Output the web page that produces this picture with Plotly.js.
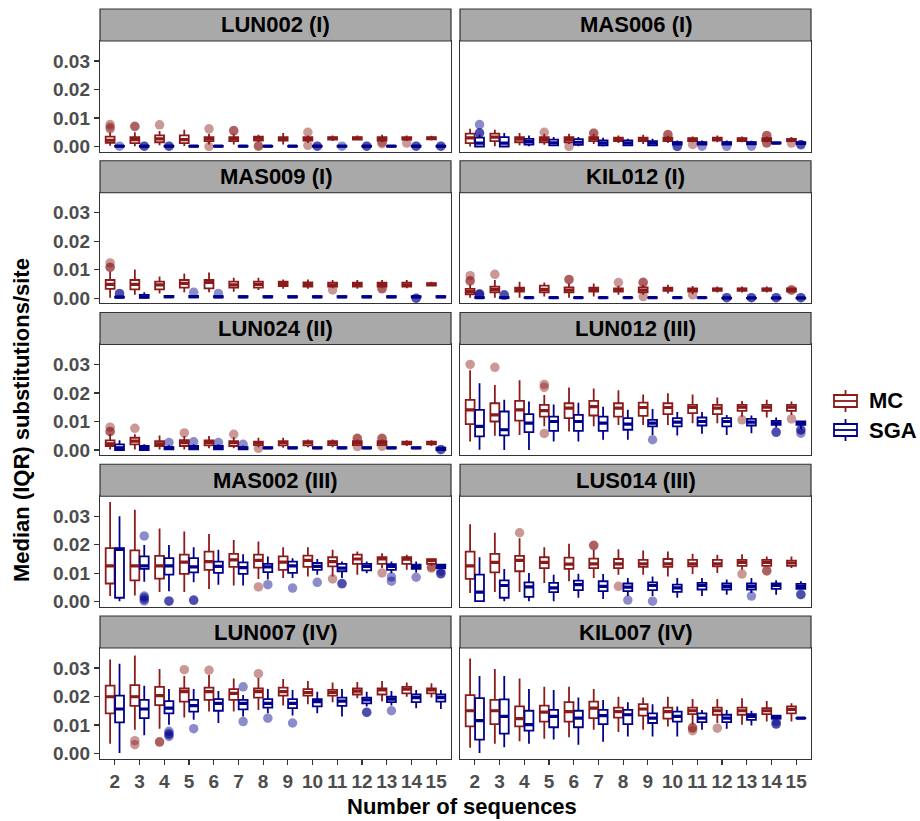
<!DOCTYPE html>
<html>
<head>
<meta charset="utf-8">
<script src="https://cdn.plot.ly/plotly-3.0.1.min.js"></script>
<style>html,body{margin:0;padding:0;background:#fff;overflow:hidden;}#chart{width:920px;height:821px;}</style>
</head>
<body>
<div id="chart"></div>
<script>
// ---------------- DATA ----------------
// number of sequences (x categories)
const nSeq = [2,3,4,5,6,7,8,9,10,11,12,13,14,15];
const seriesNames = ['MC','SGA'];
const panelTitles = ['LUN002 (I)','MAS006 (I)','MAS009 (I)','KIL012 (I)','LUN024 (II)',
                     'LUN012 (III)','MAS002 (III)','LUS014 (III)','LUN007 (IV)','KIL007 (IV)'];
const yTickVals = [0, 0.01, 0.02, 0.03];
const yTickText = ['0.00','0.01','0.02','0.03'];

// each row: [lower whisker, Q1, median, Q3, upper whisker] for n = 2..15
const LUN002_MC = [[0.0003,0.0013,0.0022,0.0035,0.0050],[0.0001,0.0012,0.0024,0.0033,0.0050],[0.0004,0.0015,0.0027,0.0039,0.0054],[0.0002,0.0012,0.0024,0.0039,0.0059],[0.0007,0.0019,0.0027,0.0033,0.0045],[0.0007,0.0019,0.0027,0.0033,0.0045],[0.0015,0.0021,0.0029,0.0035,0.0041],[0.0007,0.0021,0.0027,0.0033,0.0047],[0.0012,0.0021,0.0027,0.0033,0.0039],[0.0019,0.0024,0.0029,0.0033,0.0039],[0.0021,0.0024,0.0029,0.0033,0.0039],[0.0015,0.0021,0.0027,0.0033,0.0041],[0.0019,0.0024,0.0028,0.0033,0.0039],[0.0021,0.0025,0.0029,0.0033,0.0038]];
const LUN002_SGA = [[0,0,0.0001,0.0002,0.0004],[0,0,0.0001,0.0002,0.0003],[0,0,0.0001,0.0002,0.0003],[0,0,0.0001,0.0002,0.0004],[0,0,0.0001,0.0002,0.0004],[0,0,0.0001,0.0002,0.0004],[0,0,0.0001,0.0002,0.0004],[0,0,0.0001,0.0002,0.0004],[0,0,0.0001,0.0002,0.0003],[0,0,0.0001,0.0002,0.0004],[0,0,0.0001,0.0002,0.0003],[0,0,0.0001,0.0002,0.0004],[0,0,0.0001,0.0002,0.0003],[0,0,0.0001,0.0002,0.0003]];
const MAS006_MC = [[0.0,0.0012,0.0030,0.0045,0.0062],[0.0001,0.0019,0.0033,0.0045,0.0059],[0.0004,0.0015,0.0026,0.0033,0.0047],[0.0006,0.0015,0.0024,0.0033,0.0045],[0.0009,0.0015,0.0025,0.0033,0.0045],[0.0009,0.0019,0.0027,0.0033,0.0045],[0.0012,0.0019,0.0025,0.0031,0.0039],[0.0009,0.0019,0.0025,0.0031,0.0041],[0.0012,0.0019,0.0025,0.0031,0.0038],[0.0015,0.0019,0.0025,0.0029,0.0035],[0.0015,0.0021,0.0027,0.0031,0.0039],[0.0015,0.0019,0.0025,0.0029,0.0035],[0.0015,0.0019,0.0024,0.0029,0.0035],[0.0015,0.0019,0.0024,0.0027,0.0033]];
const MAS006_SGA = [[0.0,0.0,0.0012,0.0031,0.0042],[0.0,0.0,0.0012,0.0033,0.0047],[0.0001,0.0007,0.0017,0.0027,0.0039],[0.0001,0.0004,0.0013,0.0024,0.0033],[0.0001,0.0006,0.0015,0.0026,0.0033],[0.0,0.0004,0.0012,0.0021,0.0031],[0.0001,0.0004,0.0012,0.0021,0.0027],[0.0001,0.0004,0.0012,0.0019,0.0027],[0.0004,0.0007,0.0012,0.0015,0.0021],[0.0004,0.0007,0.0012,0.0015,0.0021],[0.0004,0.0007,0.0012,0.0015,0.0021],[0.0004,0.0008,0.0012,0.0015,0.0020],[0.0010,0.0011,0.0012,0.0014,0.0015],[0.0005,0.0009,0.0011,0.0015,0.0018]];
const MAS009_MC = [[0.0002,0.0033,0.0049,0.0064,0.0093],[0.0012,0.0031,0.0049,0.0064,0.0101],[0.0017,0.0031,0.0047,0.0058,0.0076],[0.0021,0.0037,0.0052,0.0064,0.0087],[0.0021,0.0035,0.0056,0.0064,0.0090],[0.0023,0.0037,0.0047,0.0058,0.0072],[0.0029,0.0037,0.0049,0.0058,0.0072],[0.0033,0.0043,0.0052,0.0058,0.0066],[0.0033,0.0041,0.0049,0.0056,0.0066],[0.0035,0.0041,0.0047,0.0055,0.0064],[0.0033,0.0041,0.0049,0.0055,0.0064],[0.0035,0.0041,0.0049,0.0055,0.0064],[0.0035,0.0041,0.0047,0.0055,0.0064],[0.0041,0.0044,0.0049,0.0053,0.0058]];
const MAS009_SGA = [[0.0,0.0002,0.0004,0.0006,0.0009],[0.0,0.0001,0.0005,0.0012,0.0021],[0.0001,0.0003,0.0006,0.0008,0.0011],[0.0001,0.0003,0.0006,0.0008,0.0011],[0.0002,0.0003,0.0005,0.0007,0.0010],[0.0002,0.0003,0.0005,0.0007,0.0009],[0.0002,0.0003,0.0005,0.0007,0.0009],[0.0002,0.0003,0.0005,0.0007,0.0009],[0.0002,0.0003,0.0005,0.0007,0.0009],[0.0002,0.0003,0.0005,0.0007,0.0009],[0.0002,0.0003,0.0005,0.0007,0.0009],[0.0002,0.0003,0.0005,0.0007,0.0009],[0.0002,0.0003,0.0005,0.0007,0.0009],[0.0002,0.0003,0.0005,0.0007,0.0009]];
const KIL012_MC = [[0.0002,0.0014,0.0023,0.0033,0.0047],[0.0002,0.0021,0.0031,0.0041,0.0064],[0.0002,0.0023,0.0031,0.0037,0.0058],[0.0006,0.0021,0.0031,0.0044,0.0055],[0.0002,0.0021,0.0029,0.0038,0.0052],[0.0006,0.0023,0.0031,0.0037,0.0052],[0.0012,0.0023,0.0029,0.0035,0.0044],[0.0012,0.0021,0.0029,0.0038,0.0047],[0.0017,0.0026,0.0031,0.0037,0.0047],[0.0014,0.0023,0.0029,0.0035,0.0043],[0.0020,0.0026,0.0031,0.0035,0.0041],[0.0020,0.0026,0.0031,0.0035,0.0041],[0.0020,0.0026,0.0031,0.0035,0.0041],[0.0020,0.0023,0.0029,0.0035,0.0038]];
const KIL012_SGA = [[0.0,0.0001,0.0002,0.0004,0.0008],[0.0,0.0001,0.0002,0.0004,0.0008],[0.0,0.0001,0.0002,0.0003,0.0004],[0.0,0.0001,0.0002,0.0003,0.0004],[0.0,0.0001,0.0002,0.0003,0.0004],[0.0,0.0001,0.0002,0.0003,0.0004],[0.0,0.0001,0.0002,0.0003,0.0004],[0.0,0.0001,0.0002,0.0003,0.0004],[0.0,0.0001,0.0002,0.0003,0.0004],[0.0,0.0001,0.0002,0.0003,0.0004],[0.0,0.0,0.0001,0.0001,0.0001],[0.0,0.0,0.0001,0.0001,0.0001],[0.0,0.0,0.0001,0.0001,0.0001],[0.0,0.0,0.0001,0.0001,0.0001]];
const LUN024_MC = [[0.0002,0.0014,0.0022,0.0034,0.0057],[0.0002,0.0020,0.0031,0.0043,0.0055],[0.0002,0.0014,0.0022,0.0031,0.0051],[0.0002,0.0014,0.0026,0.0035,0.0049],[0.0006,0.0016,0.0026,0.0034,0.0049],[0.0006,0.0014,0.0026,0.0031,0.0045],[0.0010,0.0017,0.0026,0.0029,0.0043],[0.0008,0.0016,0.0026,0.0031,0.0043],[0.0010,0.0016,0.0026,0.0031,0.0037],[0.0010,0.0017,0.0026,0.0031,0.0037],[0.0014,0.0017,0.0026,0.0031,0.0037],[0.0014,0.0017,0.0026,0.0031,0.0037],[0.0014,0.0020,0.0026,0.0029,0.0034],[0.0014,0.0020,0.0025,0.0029,0.0034]];
const LUN024_SGA = [[0.0,0.0,0.0008,0.0020,0.0034],[0.0,0.0,0.0006,0.0014,0.0020],[0.0002,0.0002,0.0008,0.0010,0.0017],[0.0002,0.0002,0.0008,0.0014,0.0020],[0.0002,0.0002,0.0008,0.0014,0.0020],[0.0002,0.0002,0.0008,0.0010,0.0016],[0.0004,0.0006,0.0007,0.0010,0.0012],[0.0004,0.0006,0.0007,0.0010,0.0012],[0.0004,0.0006,0.0007,0.0010,0.0012],[0.0004,0.0006,0.0007,0.0010,0.0012],[0.0004,0.0006,0.0007,0.0010,0.0012],[0.0004,0.0006,0.0007,0.0010,0.0012],[0.0004,0.0006,0.0007,0.0010,0.0012],[0.0,0.0,0.0002,0.0008,0.0010]];
const LUN012_MC = [[0.0030,0.0091,0.0141,0.0176,0.0280],[0.0050,0.0100,0.0123,0.0164,0.0228],[0.0053,0.0103,0.0141,0.0172,0.0245],[0.0083,0.0117,0.0138,0.0158,0.0193],[0.0065,0.0112,0.0147,0.0164,0.0219],[0.0083,0.0121,0.0152,0.0172,0.0216],[0.0088,0.0117,0.0147,0.0164,0.0210],[0.0088,0.0120,0.0149,0.0166,0.0195],[0.0088,0.0126,0.0149,0.0164,0.0199],[0.0094,0.0129,0.0149,0.0158,0.0195],[0.0094,0.0126,0.0147,0.0158,0.0184],[0.0117,0.0137,0.0150,0.0158,0.0172],[0.0114,0.0137,0.0150,0.0158,0.0176],[0.0123,0.0137,0.0150,0.0158,0.0170]];
const LUN012_SGA = [[0.0001,0.0048,0.0083,0.0141,0.0234],[0.0,0.0051,0.0071,0.0135,0.0176],[0.0,0.0063,0.0094,0.0126,0.0170],[0.0030,0.0067,0.0100,0.0117,0.0160],[0.0030,0.0067,0.0100,0.0123,0.0166],[0.0036,0.0067,0.0094,0.0117,0.0152],[0.0036,0.0071,0.0091,0.0112,0.0141],[0.0053,0.0083,0.0094,0.0106,0.0144],[0.0051,0.0083,0.0098,0.0112,0.0133],[0.0057,0.0086,0.0100,0.0114,0.0133],[0.0053,0.0083,0.0100,0.0112,0.0123],[0.0059,0.0086,0.0098,0.0109,0.0121],[0.0079,0.0088,0.0094,0.0102,0.0114],[0.0074,0.0088,0.0094,0.0100,0.0102]];
const MAS002_MC = [[0.0020,0.0064,0.0126,0.0188,0.0350],[0.0022,0.0075,0.0126,0.0180,0.0323],[0.0034,0.0081,0.0126,0.0161,0.0257],[0.0034,0.0098,0.0139,0.0165,0.0246],[0.0045,0.0112,0.0141,0.0176,0.0238],[0.0057,0.0122,0.0147,0.0168,0.0217],[0.0080,0.0120,0.0145,0.0165,0.0211],[0.0083,0.0112,0.0139,0.0159,0.0191],[0.0089,0.0122,0.0145,0.0162,0.0191],[0.0089,0.0124,0.0141,0.0156,0.0182],[0.0095,0.0133,0.0150,0.0165,0.0176],[0.0118,0.0133,0.0150,0.0156,0.0170],[0.0112,0.0133,0.0149,0.0156,0.0165],[0.0126,0.0133,0.0145,0.0149,0.0153]];
const MAS002_SGA = [[0.0002,0.0014,0.0184,0.0188,0.0300],[0.0070,0.0115,0.0126,0.0159,0.0199],[0.0037,0.0095,0.0126,0.0153,0.0199],[0.0068,0.0103,0.0122,0.0153,0.0191],[0.0060,0.0101,0.0124,0.0141,0.0182],[0.0057,0.0098,0.0120,0.0138,0.0167],[0.0078,0.0104,0.0122,0.0133,0.0159],[0.0083,0.0101,0.0126,0.0141,0.0153],[0.0095,0.0112,0.0124,0.0136,0.0150],[0.0083,0.0107,0.0118,0.0133,0.0141],[0.0100,0.0110,0.0124,0.0133,0.0141],[0.0100,0.0112,0.0124,0.0132,0.0141],[0.0103,0.0115,0.0124,0.0130,0.0141],[0.0118,0.0118,0.0124,0.0130,0.0130]];
const LUS014_MC = [[0.0031,0.0080,0.0126,0.0176,0.0272],[0.0034,0.0103,0.0138,0.0168,0.0242],[0.0034,0.0107,0.0145,0.0161,0.0223],[0.0066,0.0118,0.0138,0.0156,0.0191],[0.0072,0.0115,0.0132,0.0155,0.0203],[0.0083,0.0118,0.0133,0.0151,0.0182],[0.0095,0.0118,0.0133,0.0150,0.0184],[0.0095,0.0122,0.0133,0.0147,0.0180],[0.0089,0.0122,0.0133,0.0150,0.0176],[0.0097,0.0124,0.0133,0.0147,0.0168],[0.0101,0.0124,0.0133,0.0147,0.0165],[0.0112,0.0126,0.0138,0.0147,0.0167],[0.0124,0.0126,0.0138,0.0147,0.0159],[0.0118,0.0126,0.0136,0.0144,0.0159]];
const LUS014_SGA = [[0.0002,0.0002,0.0034,0.0095,0.0156],[0.0002,0.0014,0.0057,0.0075,0.0115],[0.0002,0.0017,0.0052,0.0068,0.0101],[0.0002,0.0034,0.0049,0.0066,0.0095],[0.0014,0.0041,0.0060,0.0074,0.0098],[0.0010,0.0037,0.0054,0.0072,0.0097],[0.0020,0.0037,0.0051,0.0064,0.0083],[0.0020,0.0041,0.0057,0.0068,0.0089],[0.0014,0.0035,0.0049,0.0060,0.0083],[0.0020,0.0043,0.0057,0.0066,0.0083],[0.0025,0.0043,0.0054,0.0064,0.0078],[0.0031,0.0043,0.0054,0.0064,0.0083],[0.0025,0.0045,0.0057,0.0064,0.0075],[0.0043,0.0045,0.0054,0.0063,0.0072]];
const LUN007_MC = [[0.0034,0.0141,0.0199,0.0238,0.0330],[0.0083,0.0167,0.0199,0.0240,0.0344],[0.0087,0.0170,0.0203,0.0234,0.0296],[0.0126,0.0182,0.0217,0.0228,0.0272],[0.0147,0.0188,0.0217,0.0231,0.0275],[0.0147,0.0188,0.0211,0.0226,0.0263],[0.0153,0.0196,0.0217,0.0228,0.0265],[0.0168,0.0203,0.0217,0.0231,0.0261],[0.0173,0.0203,0.0214,0.0226,0.0254],[0.0180,0.0203,0.0214,0.0223,0.0249],[0.0194,0.0207,0.0219,0.0228,0.0251],[0.0182,0.0207,0.0223,0.0228,0.0254],[0.0199,0.0211,0.0226,0.0234,0.0249],[0.0196,0.0211,0.0223,0.0228,0.0246]];
const LUN007_SGA = [[0.0002,0.0109,0.0156,0.0203,0.0315],[0.0064,0.0124,0.0156,0.0188,0.0238],[0.0101,0.0141,0.0159,0.0184,0.0226],[0.0118,0.0147,0.0168,0.0188,0.0226],[0.0107,0.0150,0.0176,0.0191,0.0219],[0.0130,0.0155,0.0176,0.0188,0.0205],[0.0141,0.0161,0.0176,0.0191,0.0226],[0.0133,0.0159,0.0176,0.0191,0.0223],[0.0141,0.0165,0.0182,0.0191,0.0217],[0.0130,0.0167,0.0184,0.0196,0.0226],[0.0165,0.0176,0.0188,0.0196,0.0217],[0.0168,0.0180,0.0191,0.0199,0.0219],[0.0159,0.0180,0.0196,0.0207,0.0223],[0.0156,0.0182,0.0196,0.0207,0.0223]];
const KIL007_MC = [[0.0020,0.0095,0.0150,0.0205,0.0333],[0.0034,0.0103,0.0150,0.0188,0.0296],[0.0043,0.0095,0.0122,0.0165,0.0263],[0.0052,0.0112,0.0145,0.0168,0.0234],[0.0057,0.0112,0.0147,0.0180,0.0234],[0.0083,0.0124,0.0159,0.0182,0.0226],[0.0075,0.0126,0.0147,0.0161,0.0199],[0.0083,0.0133,0.0156,0.0173,0.0196],[0.0095,0.0122,0.0147,0.0161,0.0199],[0.0101,0.0138,0.0150,0.0161,0.0191],[0.0107,0.0136,0.0150,0.0161,0.0191],[0.0101,0.0136,0.0150,0.0161,0.0194],[0.0112,0.0138,0.0150,0.0159,0.0184],[0.0112,0.0141,0.0155,0.0165,0.0176]];
const KIL007_SGA = [[0.0002,0.0049,0.0115,0.0194,0.0272],[0.0022,0.0070,0.0130,0.0190,0.0272],[0.0034,0.0080,0.0101,0.0150,0.0226],[0.0049,0.0092,0.0130,0.0153,0.0223],[0.0031,0.0092,0.0124,0.0150,0.0196],[0.0041,0.0103,0.0133,0.0153,0.0188],[0.0060,0.0103,0.0136,0.0153,0.0180],[0.0060,0.0107,0.0124,0.0141,0.0173],[0.0060,0.0112,0.0130,0.0147,0.0165],[0.0083,0.0110,0.0124,0.0141,0.0153],[0.0087,0.0110,0.0124,0.0136,0.0153],[0.0098,0.0118,0.0130,0.0138,0.0150],[0.0120,0.0122,0.0126,0.0133,0.0136],[0.0123,0.0123,0.0124,0.0125,0.0125]];

// outliers: [number of sequences, value]
const LUN002_MC_out = [[2,0.0077],[2,0.0068],[2,0.0062],[3,0.0071],[3,0.0070],[4,0.0076],[6,0.0062],[6,0.0],[7,0.0056],[7,0.0055],[8,0.0002],[8,0.0001],[10,0.0050],[10,0.0004],[13,0.0015],[13,0.0010],[14,0.0012]];
const LUN002_SGA_out = [[2,0.0001],[3,0.0001],[3,0.0001],[4,0.0001],[4,0.0001],[10,0.0001],[10,0.0001],[11,0.0001],[12,0.0001],[12,0.0001],[14,0.0001],[14,0.0001],[15,0.0001],[15,0.0001]];
const MAS006_MC_out = [[5,0.0050],[6,0.0],[7,0.0047],[7,0.0046],[10,0.0042],[10,0.0041],[11,0.0007],[14,0.0039],[14,0.0038],[14,0.0012],[14,0.0013],[15,0.0012]];
const MAS006_SGA_out = [[2,0.0047],[2,0.0048],[2,0.0077],[10,0.0],[10,0.0],[11,0.0001],[12,0.0],[13,0.0001],[15,0.0007],[15,0.0006]];
const MAS009_MC_out = [[2,0.0124],[2,0.0109],[2,0.0108],[11,0.0029],[13,0.0033],[13,0.0034]];
const MAS009_SGA_out = [[2,0.0016],[2,0.0017],[5,0.0021],[6,0.0017],[14,0.0],[14,0.0]];
const KIL012_MC_out = [[2,0.0060],[2,0.0062],[2,0.0079],[3,0.0084],[6,0.0066],[6,0.0065],[8,0.0055],[9,0.0055],[9,0.0056],[9,0.0006],[11,0.0012],[15,0.0030],[15,0.0028]];
const KIL012_SGA_out = [[2,0.0013],[2,0.0014],[2,0.0016],[3,0.0011],[3,0.0012],[12,0.0002],[12,0.0002],[13,0.0002],[13,0.0002],[14,0.0002],[14,0.0002],[15,0.0002],[15,0.0002]];
const LUN024_MC_out = [[2,0.0080],[2,0.0064],[2,0.0065],[3,0.0076],[5,0.0060],[7,0.0055],[8,0.0006],[12,0.0041],[12,0.0040],[12,0.0012],[13,0.0041],[13,0.0040],[13,0.0013]];
const LUN024_SGA_out = [[4,0.0026],[5,0.0029],[6,0.0026],[7,0.0020],[15,0.0002],[15,0.0001]];
const LUN012_MC_out = [[2,0.0300],[3,0.0290],[5,0.0230],[5,0.0220],[5,0.0058],[13,0.0106],[15,0.0109]];
const LUN012_SGA_out = [[9,0.0036],[14,0.0063],[14,0.0062],[15,0.0071],[15,0.0070],[15,0.0059]];
const MAS002_MC_out = [[8,0.0052],[11,0.0080],[13,0.0101],[15,0.0118],[15,0.0122]];
const MAS002_SGA_out = [[3,0.0231],[3,0.0020],[3,0.0015],[3,0.0008],[3,0.0003],[4,0.0002],[4,0.0003],[5,0.0006],[5,0.0005],[8,0.0060],[9,0.0048],[10,0.0068],[11,0.0064],[11,0.0063],[13,0.0087],[13,0.0072],[14,0.0086],[15,0.0107],[15,0.0098],[15,0.0099]];
const LUS014_MC_out = [[4,0.0242],[7,0.0198],[7,0.0197],[8,0.0054],[13,0.0097],[14,0.0109],[14,0.0108]];
const LUS014_SGA_out = [[8,0.0006],[9,0.0002],[13,0.0020],[15,0.0025],[15,0.0026]];
const LUN007_MC_out = [[3,0.0045],[3,0.0031],[4,0.0041],[4,0.0040],[5,0.0294],[6,0.0292],[8,0.0280]];
const LUN007_SGA_out = [[4,0.0078],[4,0.0070],[4,0.0066],[4,0.0060],[5,0.0087],[7,0.0234],[7,0.0112],[8,0.0124],[9,0.0107],[12,0.0145],[12,0.0144],[13,0.0150]];
const KIL007_MC_out = [[11,0.0092],[11,0.0089],[11,0.0080],[12,0.0089]];
const KIL007_SGA_out = [[14,0.0112],[14,0.0103],[14,0.0104]];

// ---------------- BUILD ----------------
const panelBoxes = [
  [LUN002_MC, LUN002_SGA, LUN002_MC_out, LUN002_SGA_out],
  [MAS006_MC, MAS006_SGA, MAS006_MC_out, MAS006_SGA_out],
  [MAS009_MC, MAS009_SGA, MAS009_MC_out, MAS009_SGA_out],
  [KIL012_MC, KIL012_SGA, KIL012_MC_out, KIL012_SGA_out],
  [LUN024_MC, LUN024_SGA, LUN024_MC_out, LUN024_SGA_out],
  [LUN012_MC, LUN012_SGA, LUN012_MC_out, LUN012_SGA_out],
  [MAS002_MC, MAS002_SGA, MAS002_MC_out, MAS002_SGA_out],
  [LUS014_MC, LUS014_SGA, LUS014_MC_out, LUS014_SGA_out],
  [LUN007_MC, LUN007_SGA, LUN007_MC_out, LUN007_SGA_out],
  [KIL007_MC, KIL007_SGA, KIL007_MC_out, KIL007_SGA_out]
];

const W = 920, H = 821;
const colors = ['#8B1A1A', '#00008B'];
const dodge = [-0.19, 0.19];
const boxWidth = 0.36;
const colPx = [[100, 451], [460, 811]];
const rowTop0 = 41, rowPitch = 151.75, plotH = 110.5, stripH = 32;
const FONT = 'Liberation Sans, Arial, sans-serif';
const tickFont = {family: FONT, size: 19, color: '#4D4D4D', weight: 'bold'};
const titleFont = {family: FONT, size: 22, color: '#000000', weight: 'bold'};
const frameColor = '#333333';
const px = v => v / W, py = v => 1 - v / H;

const traces = [];
const layout = {
  width: W, height: H,
  margin: {l: 0, r: 0, t: 0, b: 0},
  paper_bgcolor: '#ffffff', plot_bgcolor: '#ffffff',
  showlegend: false,
  shapes: [], annotations: []
};

panelTitles.forEach((title, i) => {
  const r = Math.floor(i / 2), c = i % 2;
  const n = i + 1;
  const sfx = n === 1 ? '' : String(n);
  const xa = 'x' + sfx, ya = 'y' + sfx;
  const top = rowTop0 + r * rowPitch, bot = top + plotH;
  const x0 = px(colPx[c][0]), x1 = px(colPx[c][1]);
  const y0 = py(bot), y1 = py(top);
  const bottomRow = r === 4, leftCol = c === 0;

  layout['xaxis' + sfx] = {
    domain: [x0, x1], anchor: ya, range: [1.4, 15.6],
    tickmode: 'array', tickvals: nSeq, ticktext: nSeq.map(String),
    showticklabels: bottomRow, ticks: bottomRow ? 'outside' : '', ticklen: 5, tickwidth: 1.2, tickcolor: frameColor,
    tickfont: tickFont, showgrid: false, zeroline: false,
    showline: true, mirror: true, linecolor: frameColor, linewidth: 1.2, fixedrange: true
  };
  layout['yaxis' + sfx] = {
    domain: [y0, y1], anchor: xa, range: [-0.00175, 0.037],
    tickmode: 'array', tickvals: yTickVals, ticktext: yTickText,
    showticklabels: leftCol, ticks: leftCol ? 'outside' : '', ticklen: 5, tickwidth: 1.2, tickcolor: frameColor,
    tickfont: tickFont, showgrid: false, zeroline: false,
    showline: true, mirror: true, linecolor: frameColor, linewidth: 1.2, fixedrange: true
  };

  // strip header
  layout.shapes.push({type: 'rect', xref: 'paper', yref: 'paper', x0: x0, x1: x1,
    y0: y1, y1: py(top - stripH), fillcolor: '#A9A9A9', line: {color: frameColor, width: 1.2}, layer: 'above'});
  layout.annotations.push({xref: 'paper', yref: 'paper', x: (x0 + x1) / 2, y: py(top - stripH / 2),
    text: title, showarrow: false, xanchor: 'center', yanchor: 'middle', font: titleFont});

  const pb = panelBoxes[i];
  seriesNames.forEach((s, si) => {
    const rows = pb[si];
    const xpos = nSeq.map(k => k + dodge[si]);
    traces.push({
      type: 'box', name: s, legendgroup: s, showlegend: false,
      xaxis: xa, yaxis: ya,
      x: xpos,
      lowerfence: rows.map(v => v[0]), q1: rows.map(v => v[1]), median: rows.map(v => v[2]),
      q3: rows.map(v => v[3]), upperfence: rows.map(v => v[4]),
      width: boxWidth, whiskerwidth: 0, boxpoints: false,
      fillcolor: '#ffffff', line: {color: colors[si], width: 1.8},
      hoverinfo: 'skip'
    });
    // thicker median bar (ggplot style), drawn from the same medians
    const mx = [], my = [];
    xpos.forEach((xv, j) => { mx.push(xv - boxWidth / 2, xv + boxWidth / 2, null); my.push(rows[j][2], rows[j][2], null); });
    traces.push({
      type: 'scatter', mode: 'lines', showlegend: false, xaxis: xa, yaxis: ya,
      x: mx, y: my, line: {color: colors[si], width: 3.2}, hoverinfo: 'skip'
    });
    const out = pb[2 + si];
    traces.push({
      type: 'scatter', mode: 'markers', showlegend: false, legendgroup: s,
      xaxis: xa, yaxis: ya,
      x: out.map(o => o[0] + dodge[si]), y: out.map(o => o[1]),
      marker: {color: colors[si], size: 9.5, opacity: 0.45, line: {width: 0}},
      hoverinfo: 'skip'
    });
  });
});

// axis titles
layout.annotations.push({xref: 'paper', yref: 'paper', x: px(462), y: py(806),
  text: 'Number of sequences', showarrow: false, xanchor: 'center', yanchor: 'middle', font: titleFont});
layout.annotations.push({xref: 'paper', yref: 'paper', x: px(22), y: py(420), textangle: -90,
  text: 'Median (IQR) substitutions/site', showarrow: false, xanchor: 'center', yanchor: 'middle', font: titleFont});

// legend (drawn as key glyphs + labels)
const legendY = [401, 430];
seriesNames.forEach((s, si) => {
  const cy = legendY[si];
  const line = {color: colors[si], width: 1.8};
  layout.shapes.push({type: 'rect', xref: 'paper', yref: 'paper', x0: px(834), x1: px(857), y0: py(cy + 6), y1: py(cy - 6), line: line, fillcolor: '#ffffff'});
  layout.shapes.push({type: 'line', xref: 'paper', yref: 'paper', x0: px(834), x1: px(857), y0: py(cy), y1: py(cy), line: line});
  layout.shapes.push({type: 'line', xref: 'paper', yref: 'paper', x0: px(845.5), x1: px(845.5), y0: py(cy - 6), y1: py(cy - 11), line: line});
  layout.shapes.push({type: 'line', xref: 'paper', yref: 'paper', x0: px(845.5), x1: px(845.5), y0: py(cy + 6), y1: py(cy + 11), line: line});
  layout.annotations.push({xref: 'paper', yref: 'paper', x: px(867), y: py(cy), text: s, showarrow: false,
    xanchor: 'left', yanchor: 'middle', font: titleFont});
});

Plotly.newPlot('chart', traces, layout, {staticPlot: true, displayModeBar: false});
</script>
</body>
</html>
